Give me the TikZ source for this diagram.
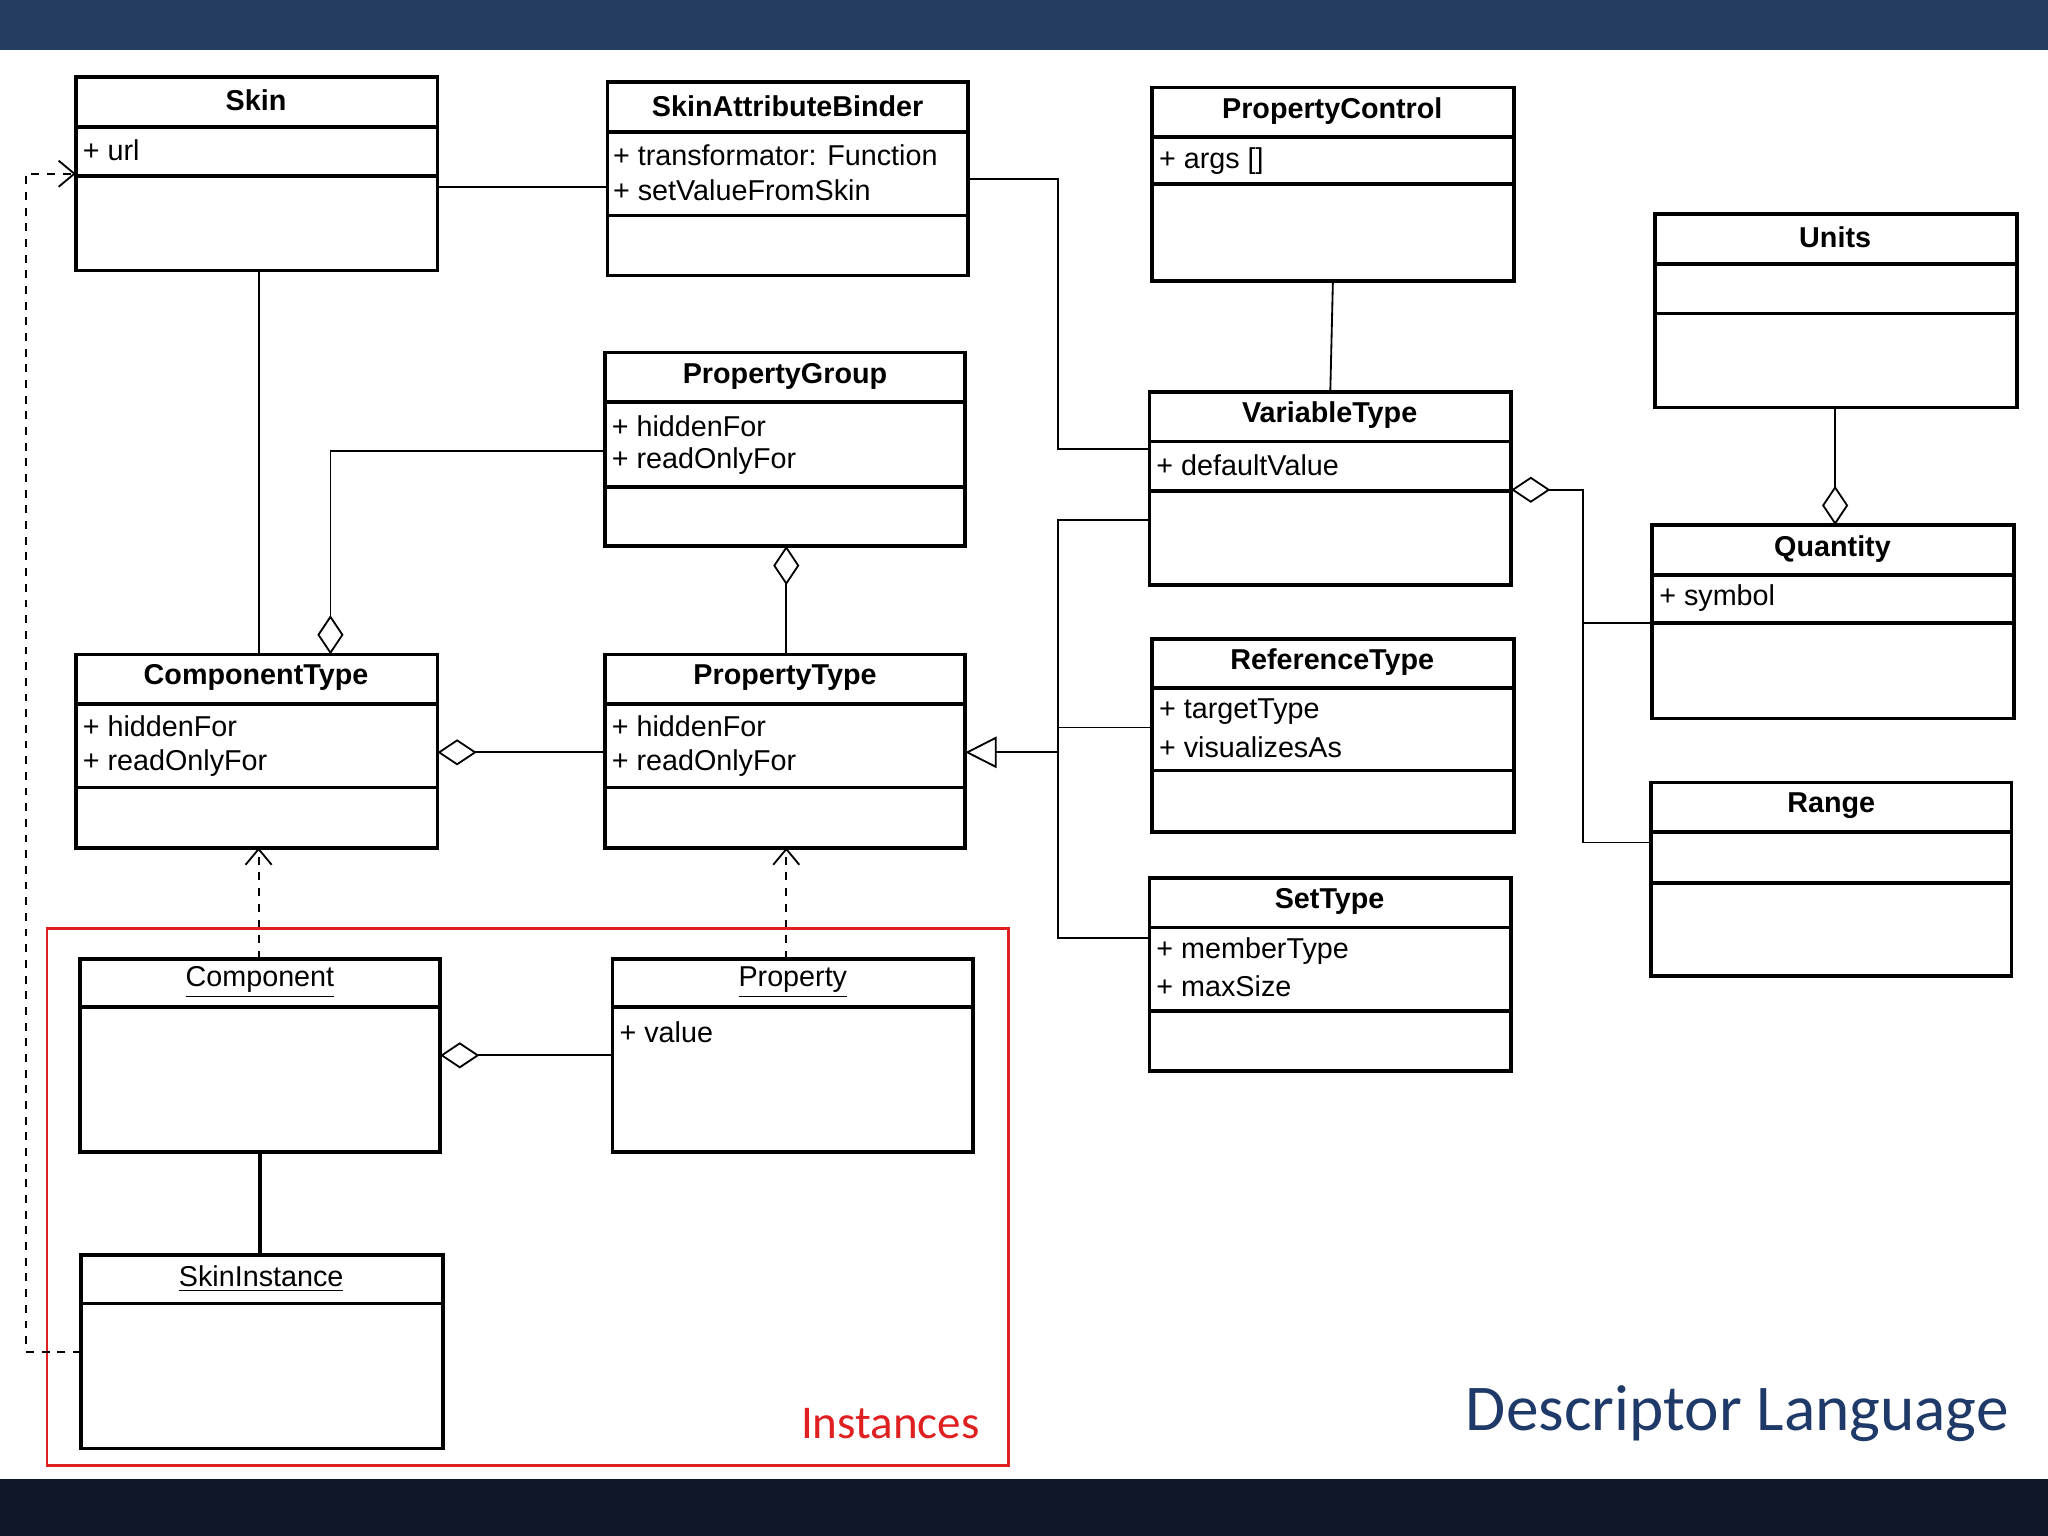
\documentclass[tikz,border=0pt]{standalone}
\usepackage{fontspec}
\setmainfont{Liberation Sans}
\newfontfamily\carlitofont{Carlito}
\usetikzlibrary{arrows.meta}
\definecolor{topbar}{HTML}{243D60}
\definecolor{botbar}{HTML}{0E1828}
\definecolor{dl}{HTML}{1F3A68}
\definecolor{red1}{HTML}{E02020}
\tikzset{
 box/.style={draw, line width=1.4pt, inner sep=0pt, outer sep=0pt},
 hd/.style={font=\bfseries\fontsize{11}{12}\selectfont},
 attr/.style={anchor=west, font=\fontsize{11}{12}\selectfont, inner sep=0pt},
 ln/.style={line width=0.7pt},
 dia/.style={{Diamond[open,length=15pt,width=10pt]}-},
 inh/.style={{Triangle[open,length=12pt,width=12pt]}-},
 dep/.style={dashed, -{Straight Barb[length=6pt,width=10pt]}},
}
\newcommand\cls[7]{%
 \node[box, minimum width={(#4-#2)*0.5pt}, minimum height={(#5-#3)*0.5pt}, anchor=north west] (#1) at (#2,#3) {};
 \draw[line width=1.4pt] (#2,#6) -- (#4,#6);
 \draw[line width=1.4pt] (#2,#7) -- (#4,#7);}
\begin{document}
\begin{tikzpicture}[x=0.5pt,y=-0.5pt]
\useasboundingbox (0,0) rectangle (1568,1176);
\fill[white] (0,0) rectangle (1568,1176);
\fill[topbar] (0,0) rectangle (1568,38);
\fill[botbar] (0,1132) rectangle (1568,1176);

\cls{Skin}{58}{59}{335}{207}{97}{135}
\node[hd] at (196,77) {Skin};
\node[attr] at (63,115) {+ url};

\cls{SAB}{465}{63}{741}{211}{101}{165}
\node[hd] at (603,81) {SkinAttributeBinder};
\node[attr] at (469,119) {+ transformator: Function};
\node[attr] at (469,146) {+ setValueFromSkin};

\cls{PC}{882}{67}{1159}{215}{105}{141}
\node[hd] at (1020,85) {PropertyControl};
\node[attr] at (887,123) {+ args []};

\cls{Units}{1267}{164}{1544}{312}{202}{240}
\node[hd] at (1405,182) {Units};

\cls{PG}{463}{270}{739}{418}{308}{373}
\node[hd] at (601,288) {PropertyGroup};
\node[attr] at (468,326) {+ hiddenFor};
\node[attr] at (468,353) {+ readOnlyFor};

\cls{VT}{880}{300}{1157}{448}{338}{376}
\node[hd] at (1018,318) {VariableType};
\node[attr] at (885,356) {+ defaultValue};

\cls{Q}{1265}{402}{1542}{550}{440}{477}
\node[hd] at (1403,420) {Quantity};
\node[attr] at (1270,458) {+ symbol};

\cls{CT}{58}{501}{335}{649}{539}{603}
\node[hd] at (196,519) {ComponentType};
\node[attr] at (63,556) {+ hiddenFor};
\node[attr] at (63,584) {+ readOnlyFor};

\cls{PT}{463}{501}{739}{649}{539}{603}
\node[hd] at (601,519) {PropertyType};
\node[attr] at (468,556) {+ hiddenFor};
\node[attr] at (468,584) {+ readOnlyFor};

\cls{RT}{882}{489}{1159}{637}{527}{590}
\node[hd] at (1020,507) {ReferenceType};
\node[attr] at (887,545) {+ targetType};
\node[attr] at (887,572) {+ visualizesAs};

\cls{Range}{1264}{599}{1540}{747}{637}{676}
\node[hd] at (1402,617) {Range};

\cls{ST}{880}{672}{1157}{820}{710}{774}
\node[hd] at (1018,690) {SetType};
\node[attr] at (885,728) {+ memberType};
\node[attr] at (885,755) {+ maxSize};

\cls{Comp}{61}{734}{337}{882}{771}{771}
\node[font=\fontsize{11}{12}\selectfont] at (199,752) {\underline{Component}};

\cls{Prop}{469}{734}{745}{882}{771}{771}
\node[font=\fontsize{11}{12}\selectfont] at (607,752) {\underline{Property}};
\node[attr] at (474,790) {+ value};

\cls{SI}{62}{961}{339}{1109}{998}{998}
\node[font=\fontsize{11}{12}\selectfont] at (200,979) {\underline{SkinInstance}};

% red box
\draw[red1, line width=1pt] (36,711) rectangle (772,1122);
\node[red1, anchor=east, font=\carlitofont\fontsize{18}{20}\selectfont] at (757,1090) {Instances};
\node[dl, anchor=east, font=\carlitofont\fontsize{25}{28}\selectfont] at (1545,1082) {Descriptor Language};

% connectors
\draw[ln] (Skin.east|-0,143) -- (SAB.west|-0,143);
\draw[ln] (SAB.east|-0,137) -- (810,137) -- (810,344) -- (VT.west|-0,344);
\draw[ln] (PC.south) -- (VT.north);
\draw[ln,dia] (Q.north-|1405,0) -- (Units.south-|1405,0);
\draw[ln,dia] (VT.east|-0,375) -- (1212,375) -- (1212,645) -- (Range.west|-0,645);
\draw[ln] (1212,477) -- (Q.west|-0,477);
\draw[ln] (Skin.south-|198,0) -- (CT.north-|198,0);
\draw[ln,dia] (CT.north-|253,0) -- (253,345) -- (PG.west|-0,345);
\draw[ln,dia] (PG.south-|602,0) -- (PT.north-|602,0);
\draw[ln,dia] (CT.east|-0,576) -- (PT.west|-0,576);
\draw[ln,inh] (PT.east|-0,576) -- (810,576);
\draw[ln] (VT.west|-0,398) -- (810,398) -- (810,718) -- (ST.west|-0,718);
\draw[ln] (810,557) -- (RT.west|-0,557);
\draw[ln,dep] (Comp.north-|198,0) -- (CT.south-|198,0);
\draw[ln,dep] (Prop.north-|602,0) -- (PT.south-|602,0);
\draw[ln,dia] (Comp.east|-0,808) -- (Prop.west|-0,808);
\draw[line width=1.4pt] (Comp.south-|199,0) -- (SI.north-|199,0);
\draw[ln,dep] (SI.west|-0,1035) -- (20,1035) -- (20,133) -- (Skin.west|-0,133);
\end{tikzpicture}
\end{document}
